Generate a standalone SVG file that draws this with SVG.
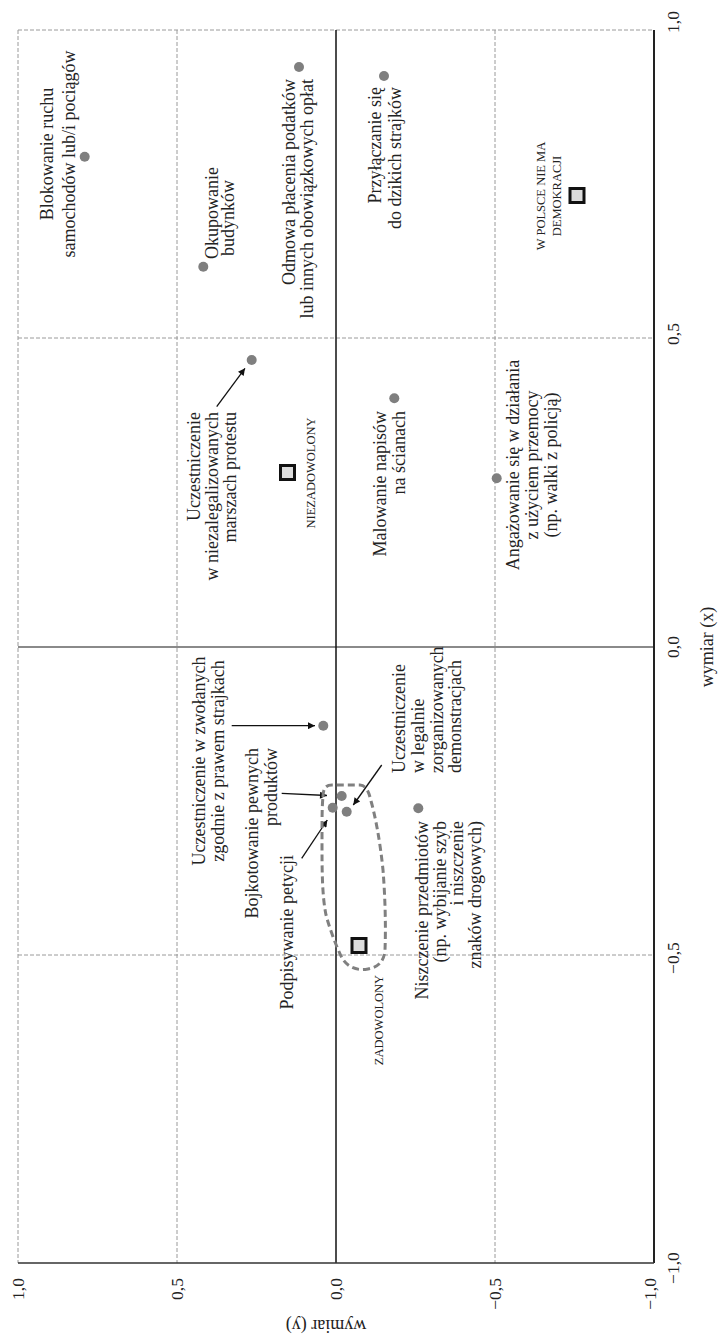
<svg xmlns="http://www.w3.org/2000/svg" width="719" height="1338" viewBox="0 0 719 1338">
<style>
text{font-family:"Liberation Serif","Times New Roman",serif;fill:#222;}
.lbl{font-size:18px;}
.cap{font-size:12.5px;}
.tick{font-size:17.5px;}
.grid{stroke:#9a9a9a;stroke-width:1;stroke-dasharray:4 2;fill:none;}
.pt{fill:#7f7f7f;}
.sq{fill:#dcdcdc;stroke:#111;stroke-width:3;}
.arr{stroke:#111;stroke-width:1.3;fill:none;marker-end:url(#ah);}
</style>
<defs>
<marker id="ah" viewBox="0 0 10 10" refX="10" refY="5" markerWidth="8" markerHeight="7" markerUnits="userSpaceOnUse" orient="auto">
<path d="M0,0 L10,5 L0,10 Z" fill="#111"/>
</marker>
</defs>
<rect width="719" height="1338" fill="#fff"/>
<g id="axes">
<line class="grid" x1="18" y1="30" x2="654" y2="30"/>
<line class="grid" x1="18" y1="30" x2="18" y2="1263"/>
<line class="grid" x1="177" y1="30" x2="177" y2="1263"/>
<line class="grid" x1="495" y1="30" x2="495" y2="1263"/>
<line class="grid" x1="18" y1="338" x2="654" y2="338"/>
<line class="grid" x1="18" y1="955" x2="654" y2="955"/>
<line x1="18" y1="647" x2="654" y2="647" stroke="#8a8a8a" stroke-width="2"/>
<line x1="336" y1="30" x2="336" y2="1263" stroke="#111" stroke-width="1.5"/>
<line x1="654" y1="30" x2="654" y2="1263" stroke="#222" stroke-width="2"/>
<line x1="18" y1="1263" x2="654" y2="1263" stroke="#333" stroke-width="1.5"/>
<g class="tick">
<text transform="translate(679,22) rotate(-90)" text-anchor="middle">1,0</text>
<text transform="translate(679,334) rotate(-90)" text-anchor="middle">0,5</text>
<text transform="translate(679,647) rotate(-90)" text-anchor="middle">0,0</text>
<text transform="translate(679,958) rotate(-90)" text-anchor="middle">−0,5</text>
<text transform="translate(679,1268) rotate(-90)" text-anchor="middle">−1,0</text>
<text transform="translate(24,1278) rotate(-90)" text-anchor="end">1,0</text>
<text transform="translate(183,1278) rotate(-90)" text-anchor="end">0,5</text>
<text transform="translate(342,1278) rotate(-90)" text-anchor="end">0,0</text>
<text transform="translate(501,1278) rotate(-90)" text-anchor="end">−0,5</text>
<text transform="translate(656,1278) rotate(-90)" text-anchor="end">−1,0</text>
</g>
<text class="lbl" transform="translate(713,647) rotate(-90)" text-anchor="middle">wymiar (x)</text>
<text class="lbl" transform="translate(326,1320) rotate(180)" text-anchor="middle">wymiar (y)</text>
</g>
<g id="connectors">
<line class="arr" x1="216.7" y1="406.7" x2="245" y2="368.3"/>
<line class="arr" x1="231.7" y1="725.7" x2="315" y2="725.7"/>
<line class="arr" x1="281.7" y1="793.3" x2="327" y2="795.5"/>
<line class="arr" x1="301.7" y1="858.3" x2="327.3" y2="820"/>
<line class="arr" x1="381.7" y1="765" x2="353.3" y2="805"/>
</g>
<g id="cluster">
<path d="M323,797 C323,788 326,785 332,785 L360,785 C366,785 369,792 371,801 C375,815 380,840 383,870 C385,895 386,925 385,950 C384,962 378,967 368,969 C358,971 348,968 342,958 C337,948 330,930 326,915 C322,895 322,870 322,840 C322,820 322,805 323,797 Z" fill="none" stroke="#808080" stroke-width="3" stroke-dasharray="7 4"/>
</g>
<g id="n-blokowanie">
<circle class="pt" cx="84.7" cy="156.7" r="5"/>
<text class="lbl" transform="translate(53,154) rotate(-90)" text-anchor="middle"><tspan x="0" y="0">Blokowanie ruchu</tspan><tspan x="0" y="22">samochodów lub/i pociągów</tspan></text>
</g>
<g id="n-okupowanie">
<circle class="pt" cx="203.3" cy="266.7" r="5"/>
<text class="lbl" transform="translate(218,213) rotate(-90)" text-anchor="middle">Okupowanie</text>
<text class="lbl" transform="translate(234,218) rotate(-90)" text-anchor="middle">budynków</text>
</g>
<g id="n-odmowa">
<circle class="pt" cx="299" cy="67" r="5"/>
<text class="lbl" transform="translate(295,79) rotate(-90)" text-anchor="end"><tspan x="0" y="0">Odmowa płacenia podatków</tspan><tspan x="0" y="18">lub innych obowiązkowych opłat</tspan></text>
</g>
<g id="n-przylaczanie">
<circle class="pt" cx="384" cy="76" r="5"/>
<text class="lbl" transform="translate(381,87) rotate(-90)" text-anchor="end"><tspan x="0" y="0">Przyłączanie się</tspan><tspan x="0" y="20">do dzikich strajków</tspan></text>
</g>
<g id="n-brak-demokracji">
<rect class="sq" x="570" y="188.5" width="14" height="14"/>
<text class="cap" transform="translate(545,196) rotate(-90)" text-anchor="middle"><tspan x="0" y="0">W POLSCE NIE MA</tspan><tspan x="0" y="16">DEMOKRACJI</tspan></text>
</g>
<g id="n-niezalegalizowane">
<circle class="pt" cx="251.7" cy="360" r="5"/>
<text class="lbl" transform="translate(200,412) rotate(-90)" text-anchor="end"><tspan x="0" y="0">Uczestniczenie</tspan><tspan x="0" y="18">w niezalegalizowanych</tspan><tspan x="0" y="36">marszach protestu</tspan></text>
</g>
<g id="n-niezadowolony">
<rect class="sq" x="280.5" y="465.5" width="14" height="14"/>
<text class="cap" transform="translate(315,473) rotate(-90)" text-anchor="middle">NIEZADOWOLONY</text>
</g>
<g id="n-malowanie">
<circle class="pt" cx="394.3" cy="398.3" r="5"/>
<text class="lbl" transform="translate(386,411) rotate(-90)" text-anchor="end"><tspan x="0" y="0">Malowanie napisów</tspan><tspan x="0" y="19">na ścianach</tspan></text>
</g>
<g id="n-angazowanie">
<circle class="pt" cx="496.7" cy="478.3" r="5"/>
<text class="lbl" transform="translate(519,465) rotate(-90)" text-anchor="middle"><tspan x="0" y="0">Angażowanie się w działania</tspan><tspan x="0" y="19">z użyciem przemocy</tspan><tspan x="0" y="38">(np. walki z policją)</tspan></text>
</g>
<g id="n-strajki-legalne">
<circle class="pt" cx="323.3" cy="725.7" r="5"/>
<text class="lbl" transform="translate(205,761) rotate(-90)" text-anchor="middle"><tspan x="0" y="0">Uczestniczenie w zwołanych</tspan><tspan x="0" y="19">zgodnie z prawem strajkach</tspan></text>
</g>
<g id="n-bojkotowanie">
<circle class="pt" cx="341.7" cy="796" r="5"/>
<text class="lbl" transform="translate(258,748) rotate(-90)" text-anchor="end"><tspan x="0" y="0">Bojkotowanie pewnych</tspan><tspan x="0" y="19">produktów</tspan></text>
</g>
<g id="n-petycje">
<circle class="pt" cx="332.7" cy="807.7" r="5"/>
<text class="lbl" transform="translate(293,855) rotate(-90)" text-anchor="end">Podpisywanie petycji</text>
</g>
<g id="n-demonstracje">
<circle class="pt" cx="346.7" cy="811.7" r="5"/>
<text class="lbl" transform="translate(405,773) rotate(-90)" text-anchor="start"><tspan x="0" y="0">Uczestniczenie</tspan><tspan x="0" y="19">w legalnie</tspan><tspan x="0" y="38">zorganizowanych</tspan><tspan x="0" y="56">demonstracjach</tspan></text>
</g>
<g id="n-niszczenie">
<circle class="pt" cx="418.3" cy="808.3" r="5"/>
<text class="lbl" transform="translate(428,821) rotate(-90)" text-anchor="end"><tspan x="0" y="0">Niszczenie przedmiotów</tspan><tspan x="0" y="17.5">(np. wybijanie szyb</tspan><tspan x="0" y="35">i niszczenie</tspan><tspan x="0" y="52.5">znaków drogowych)</tspan></text>
</g>
<g id="n-zadowolony">
<rect class="sq" x="352" y="938.5" width="14" height="14"/>
<text class="cap" transform="translate(383,1020) rotate(-90)" text-anchor="middle">ZADOWOLONY</text>
</g>
</svg>
